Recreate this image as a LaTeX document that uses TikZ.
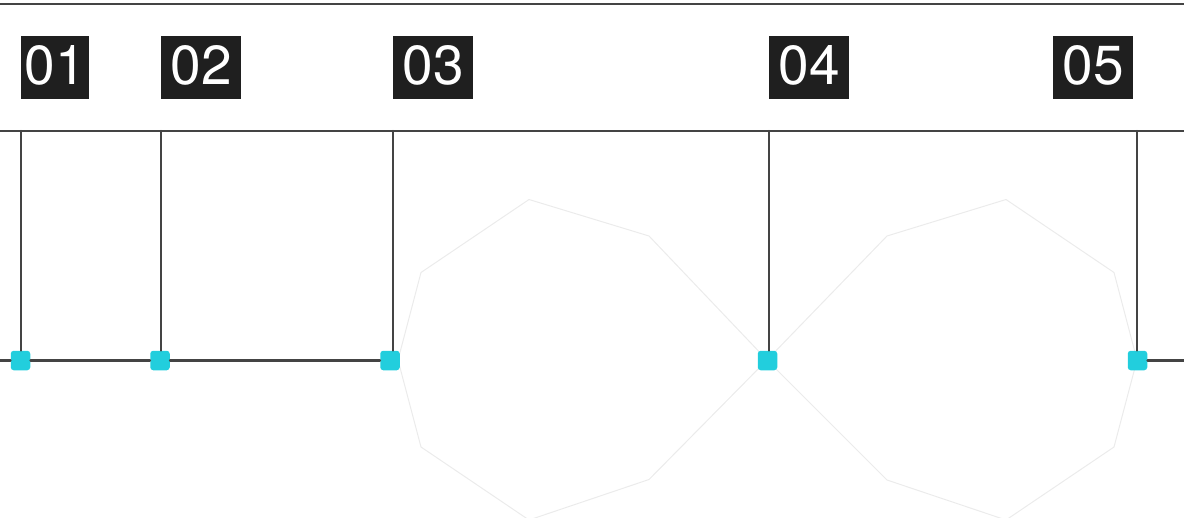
\documentclass[tikz,border=0pt]{standalone}
\usepackage{fontspec}
\setmainfont{TeX Gyre Heros}
\usepackage{tikz}
\usepackage{xcolor}
\definecolor{rulegray}{HTML}{444444}
\definecolor{tagfill}{HTML}{1F1F1F}
\definecolor{jointcyan}{HTML}{22CEDD}
\definecolor{ghostgray}{HTML}{EBEBEB}

\begin{document}
\begin{tikzpicture}[x=1pt,y=-1pt,line cap=round,
  tag/.style={fill=tagfill,text=white,anchor=north west,inner sep=0pt,
    minimum width=80pt,minimum height=63pt,text height=40pt,text depth=7pt,
    font=\fontsize{55}{55}\selectfont},
  jointbox/.style={fill=jointcyan,rounded corners=3pt,minimum size=19.5pt,inner sep=0pt},
  wire/.style={draw=rulegray,line width=2.1pt}]
\useasboundingbox (0,0) rectangle (1184,517);
\begin{scope}
\clip (0,0) rectangle (1184,517);
\draw[ghostgray,line width=1pt,line join=round] (398,360) -- (421,272.5) -- (529,199.5) -- (649,236)
  -- (767,360) -- (887,480) -- (1006,520) -- (1114,447) -- (1137,360) -- (1114,272.5)
  -- (1006,199.5) -- (887,236) -- (767,360) -- (649,479.5) -- (529,520) -- (421,447) -- cycle;
\end{scope}
\draw[wire] (-2,4) -- (1186,4);
\draw[wire] (-2,131) -- (1186,131);
\node[tag,minimum width=68pt] (n1) at (21,36) {01};
\node[tag] (n2) at (161,36) {02};
\node[tag] (n3) at (393,36) {03};
\node[tag] (n4) at (769,36) {04};
\node[tag] (n5) at (1053,36) {05};
\node[jointbox] (j1) at (20.5,360.5) {};
\node[jointbox] (j2) at (160,360.5) {};
\node[jointbox] (j3) at (390,360.5) {};
\node[jointbox] (j4) at (767.5,360.5) {};
\node[jointbox] (j5) at (1137.5,360.5) {};
\coordinate (t1) at (21,131);
\coordinate (t2) at (161,131);
\coordinate (t3) at (393,131);
\coordinate (t4) at (769,131);
\coordinate (t5) at (1137,131);
\draw[wire] (t1) -- (t1 |- j1.north);
\draw[wire] (t2) -- (t2 |- j2.north);
\draw[wire] (t3) -- (t3 |- j3.north);
\draw[wire] (t4) -- (t4 |- j4.north);
\draw[wire] (t5) -- (t5 |- j5.north);
\coordinate (w0) at (-2,360.5);
\coordinate (e0) at (1186,360.5);
\draw[wire] (w0) -- (j1.west);
\draw[wire] (j1.east) -- (j2.west);
\draw[wire] (j2.east) -- (j3.west);
\draw[wire] (j5.east) -- (e0);
\end{tikzpicture}
\end{document}
